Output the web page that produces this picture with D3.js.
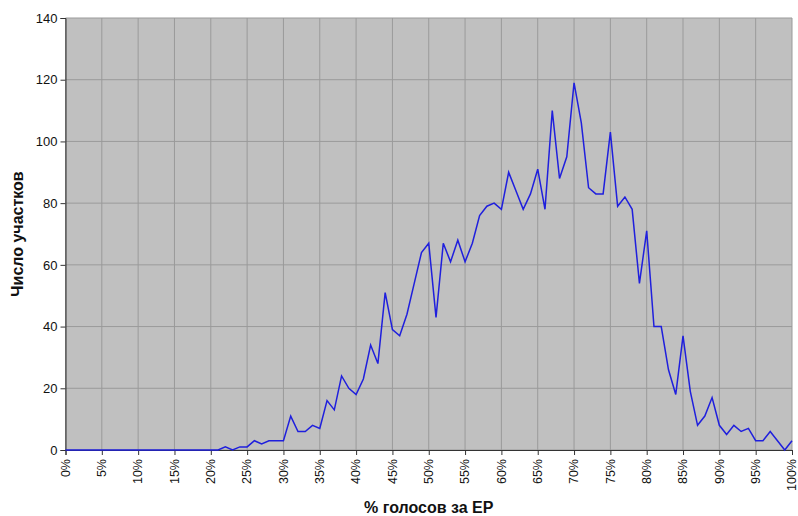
<!DOCTYPE html>
<html>
<head>
<meta charset="utf-8">
<script src="https://cdn.jsdelivr.net/npm/d3@7"></script>
<style>
  body { margin: 0; background: #fff; }
  text { font-family: "Liberation Sans", Arial, sans-serif; }
</style>
</head>
<body>
<svg id="chart" width="798" height="516"></svg>
<script>
// percent of votes for ER (x) and number of precincts (y)
const percents = d3.range(0, 101);
const counts = [
  0, 0, 0, 0, 0, 0, 0, 0, 0, 0,
  0, 0, 0, 0, 0, 0, 0, 0, 0, 0,
  0, 0, 1, 0, 1, 1, 3, 2, 3, 3,
  3, 11, 6, 6, 8, 7, 16, 13, 24, 20,
  18, 23, 34, 28, 51, 39, 37, 44, 54, 64,
  67, 43, 67, 61, 68, 61, 67, 76, 79, 80,
  78, 90, 84, 78, 83, 91, 78, 110, 88, 95,
  119, 106, 85, 83, 83, 103, 79, 82, 78, 54,
  71, 40, 40, 26, 18, 37, 19, 8, 11, 17,
  8, 5, 8, 6, 7, 3, 3, 6, 3, 0,
  3
];
const xTicks = d3.range(0, 101, 5);
const yTicks = [0, 20, 40, 60, 80, 100, 120, 140];

const margin = { top: 18, right: 6, bottom: 66, left: 65.5 },
      width = 798 - margin.left - margin.right,
      height = 516 - margin.top - margin.bottom;

const svg = d3.select("#chart");
const g = svg.append("g")
  .attr("transform", `translate(${margin.left},${margin.top})`);

const x = d3.scaleLinear().domain([0, 100]).range([0, width]);
const y = d3.scaleLinear().domain([0, 140]).range([height, 0]);

// plot background
g.append("rect")
  .attr("width", width)
  .attr("height", height)
  .attr("fill", "#c0c0c0");

// grid
g.append("g")
  .selectAll("line")
  .data(yTicks)
  .join("line")
  .attr("x1", 0).attr("x2", width)
  .attr("y1", d => y(d)).attr("y2", d => y(d))
  .attr("stroke", "#9a9a9a").attr("stroke-width", 1);

g.append("g")
  .selectAll("line")
  .data(xTicks)
  .join("line")
  .attr("x1", d => x(d)).attr("x2", d => x(d))
  .attr("y1", 0).attr("y2", height)
  .attr("stroke", "#9a9a9a").attr("stroke-width", 1);

// x axis
const xAxis = g.append("g")
  .attr("transform", `translate(0,${height})`)
  .call(d3.axisBottom(x).tickValues(xTicks).tickFormat(d => d + "%").tickSizeOuter(0).tickSize(5));
xAxis.select(".domain").attr("stroke", "#333");
xAxis.selectAll(".tick line").attr("stroke", "#333");
xAxis.selectAll("text")
  .attr("font-size", 12.5)
  .attr("fill", "#111")
  .attr("transform", "rotate(-90)")
  .attr("text-anchor", "end")
  .attr("x", -9)
  .attr("y", 0)
  .attr("dy", "0.3em");

// y axis
const yAxis = g.append("g")
  .call(d3.axisLeft(y).tickValues(yTicks).tickSizeOuter(0).tickSize(5));
yAxis.select(".domain").attr("stroke", "#333");
yAxis.selectAll(".tick line").attr("stroke", "#333");
yAxis.selectAll("text")
  .attr("font-size", 13)
  .attr("fill", "#111")
  .attr("x", -8);

// data line
const line = d3.line()
  .x((d, i) => x(percents[i]))
  .y(d => y(d));

g.append("path")
  .datum(counts)
  .attr("fill", "none")
  .attr("stroke", "#1f1fdd")
  .attr("stroke-width", 1.5)
  .attr("d", line);

// axis titles
svg.append("text")
  .attr("transform", `translate(23,${margin.top + height / 2}) rotate(-90)`)
  .attr("text-anchor", "middle")
  .attr("font-size", 16)
  .attr("font-weight", "bold")
  .attr("fill", "#111")
  .text("Число участков");

svg.append("text")
  .attr("x", margin.left + width / 2)
  .attr("y", 513)
  .attr("text-anchor", "middle")
  .attr("font-size", 16)
  .attr("font-weight", "bold")
  .attr("fill", "#111")
  .text("% голосов за ЕР");
</script>
</body>
</html>
